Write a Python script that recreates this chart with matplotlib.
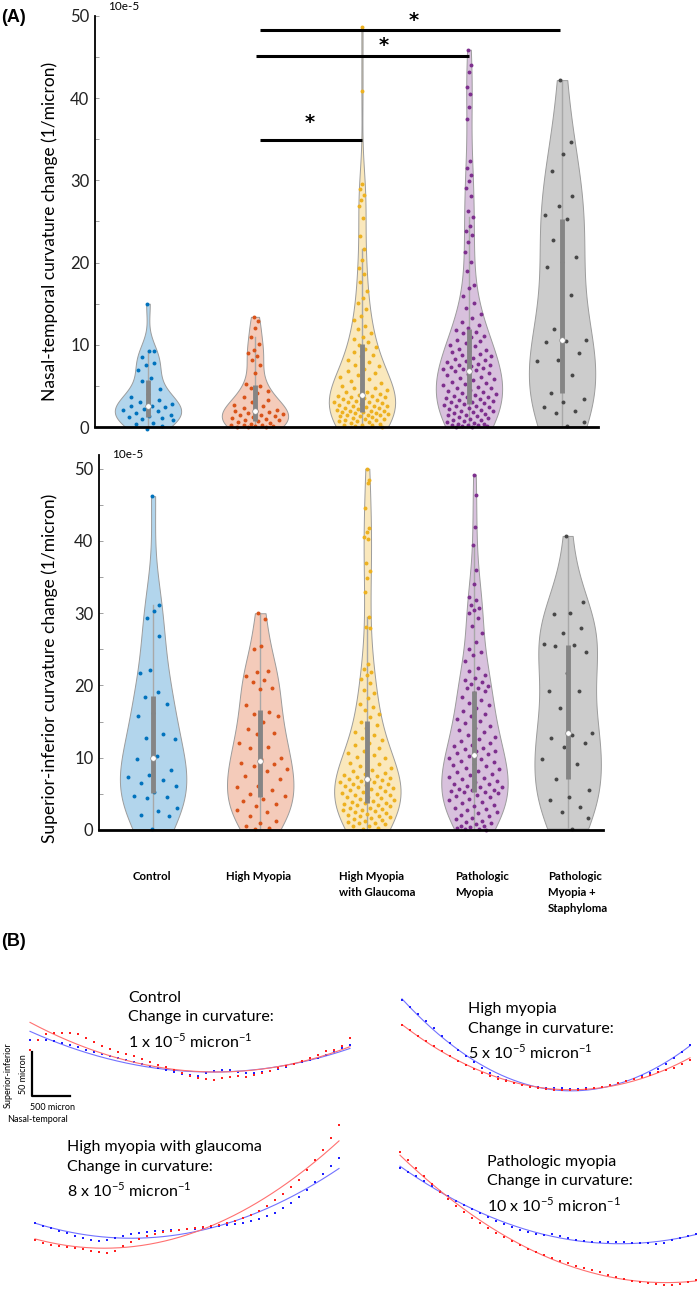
import numpy as np
import matplotlib
matplotlib.use("Agg")
import matplotlib.pyplot as plt
from matplotlib import mlab
from matplotlib.transforms import blended_transform_factory

plt.rcParams['font.family'] = ['Lato', 'DejaVu Sans']

# ---------------- panel A data (x 1e-5 / micron) ----------------
groups = ['Control', 'High Myopia', 'High Myopia\nwith Glaucoma',
          'Pathologic\nMyopia', 'Pathologic\nMyopia +\nStaphyloma']
dot_colors = ['#0072bd', '#d95319', '#edb120', '#7e2f8e', '#474747']
face_colors = ['#b2d5ec', '#f4cbba', '#fae8bc', '#d8c1dd', '#cccccc']

nt_control = [15.0, 9.3, 9.2, 8.5, 7.8, 7.6, 6.9, 6.0, 5.6, 4.6, 4.0, 3.6, 3.3, 3.1, 2.8, 2.6,
              2.5, 2.4, 2.2, 2.1, 1.9, 1.7, 1.5, 1.3, 1.2, 1.1, 1.0, 0.8, 0.5, 0.4, 0.1, -0.2]
nt_highmyopia = [13.4, 12.9, 12.1, 11.0, 10.1, 9.4, 9.0, 8.6, 8.2, 7.6, 6.6, 5.2, 5.0, 4.7, 4.4, 4.1,
                 3.6, 3.3, 3.0, 2.7, 2.5, 2.3, 2.1, 2.0, 1.9, 1.8, 1.7, 1.6, 1.5, 1.4, 1.3, 1.2,
                 1.1, 1.0, 0.9, 0.8, 0.7, 0.6, 0.5, 0.4, 0.3, 0.3, 0.2, 0.1, 0.1, 0.0, 0.0, 0.0]
nt_glaucoma = [48.7, 40.9, 29.6, 28.9, 28.2, 27.6, 26.9, 25.4, 23.2, 21.6, 20.3, 19.4, 18.6, 17.7,
               16.6, 15.7, 15.1, 14.3, 13.5, 13.0, 12.3, 11.9, 11.4, 11.0, 10.7, 10.3, 10.0, 9.7,
               9.5, 9.1, 8.8, 8.6, 8.2, 7.9, 7.6, 7.4, 7.1, 6.8, 6.6, 6.3, 6.1, 5.8, 5.6, 5.4, 5.2,
               5.0, 4.8, 4.7, 4.5, 4.3, 4.2, 4.0, 3.9, 3.8, 3.8, 3.7, 3.6, 3.5, 3.4, 3.3, 3.2, 3.1,
               3.0, 3.0, 2.9, 2.8, 2.7, 2.6, 2.6, 2.5, 2.4, 2.3, 2.3, 2.2, 2.1, 2.0, 2.0, 1.9, 1.8,
               1.8, 1.7, 1.7, 1.6, 1.5, 1.5, 1.4, 1.3, 1.3, 1.2, 1.1, 1.0, 1.0, 0.9, 0.8, 0.7, 0.7,
               0.6, 0.5, 0.4, 0.3, 0.3, 0.2, 0.1, 0.0]
nt_pathologic = [45.9, 44.0, 43.2, 41.4, 40.5, 38.9, 37.5, 32.3, 31.5, 30.7, 29.9, 29.1, 28.1, 26.3,
                 25.5, 24.5, 23.9, 23.3, 22.5, 21.3, 20.1, 19.0, 17.3, 16.9, 15.9, 15.1, 14.5, 13.7,
                 13.2, 12.8, 12.4, 12.1, 11.8, 11.5, 11.4, 11.1, 10.9, 10.6, 10.5, 10.2, 10.0, 9.8,
                 9.5, 9.4, 9.2, 9.1, 8.9, 8.8, 8.6, 8.4, 8.3, 8.1, 8.0, 7.9, 7.7, 7.6, 7.5, 7.4, 7.3,
                 7.2, 7.1, 7.0, 6.9, 6.8, 6.6, 6.4, 6.3, 6.1, 6.0, 5.8, 5.7, 5.5, 5.4, 5.2, 5.1, 4.9,
                 4.8, 4.7, 4.5, 4.4, 4.3, 4.1, 4.0, 3.9, 3.8, 3.7, 3.6, 3.5, 3.4, 3.3, 3.2, 3.1, 3.0,
                 2.9, 2.8, 2.7, 2.6, 2.5, 2.4, 2.3, 2.2, 2.1, 2.0, 1.9, 1.8, 1.7, 1.6, 1.5, 1.4, 1.3,
                 1.2, 1.1, 1.0, 0.9, 0.8, 0.7, 0.6, 0.5, 0.4, 0.4, 0.3, 0.2, 0.2, 0.1, 0.1, 0.0, 0.0]
nt_staphyloma = [42.2, 34.7, 33.2, 31.1, 28.1, 26.9, 25.8, 25.3, 22.8, 20.7, 20.1, 19.5, 16.1, 11.9,
                 10.6, 10.5, 10.3, 9.0, 8.1, 8.0, 6.3, 4.1, 3.4, 3.0, 2.4, 1.9, 1.7, 0.6, 0.1]

si_control = [46.2, 31.1, 30.3, 29.4, 26.8, 22.1, 21.7, 19.1, 18.4, 17.4, 16.2, 15.8, 13.3, 12.8,
              12.6, 10.2, 9.8, 8.3, 7.6, 7.4, 6.9, 6.5, 6.1, 5.2, 4.7, 4.5, 4.4, 3.0, 2.6, 2.1,
              2.0, 0.1]
si_highmyopia = [30.0, 29.2, 25.4, 25.0, 22.0, 21.8, 21.3, 20.7, 20.5, 19.7, 19.5, 17.3, 16.4, 16.0,
                 15.8, 15.0, 14.0, 13.4, 13.3, 12.0, 11.5, 11.4, 9.9, 9.8, 9.3, 9.1, 8.9, 8.5, 8.2,
                 7.5, 7.0, 6.1, 6.0, 5.5, 5.0, 4.7, 4.3, 4.0, 3.6, 3.3, 2.8, 2.5, 1.9, 1.3, 1.0, 0.6,
                 0.3, 0.1]
si_glaucoma = [50.0, 48.5, 48.0, 44.5, 41.8, 41.2, 40.5, 40.3, 37.0, 35.9, 34.9, 32.9, 29.5, 28.1,
               27.9, 23.0, 22.3, 21.8, 21.4, 20.9, 20.3, 19.4, 19.0, 18.2, 17.5, 17.0, 16.6, 16.0,
               15.6, 15.0, 14.6, 14.1, 13.6, 13.1, 12.8, 12.4, 12.1, 11.7, 11.3, 11.0, 10.7, 10.4,
               10.1, 9.9, 9.6, 9.3, 9.1, 8.8, 8.6, 8.3, 8.1, 7.9, 7.8, 7.6, 7.5, 7.3, 7.2, 7.1, 7.0,
               6.9, 6.8, 6.7, 6.6, 6.4, 6.3, 6.2, 6.1, 6.0, 5.9, 5.8, 5.7, 5.6, 5.4, 5.3, 5.1, 5.0,
               4.9, 4.8, 4.6, 4.5, 4.4, 4.3, 4.1, 4.0, 3.9, 3.8, 3.7, 3.6, 3.5, 3.4, 3.3, 3.1, 3.0,
               2.9, 2.8, 2.7, 2.6, 2.5, 2.4, 2.2, 2.1, 2.0, 1.9, 1.8, 1.6, 1.5, 1.4, 1.3, 1.1, 1.0,
               0.9, 0.8, 0.6, 0.5, 0.3, 0.1]
si_pathologic = [49.2, 46.4, 42.0, 39.4, 36.0, 34.0, 32.3, 31.8, 31.1, 30.7, 30.4, 30.0, 29.3, 28.2,
                 27.3, 26.0, 25.1, 24.6, 24.2, 23.4, 22.4, 22.0, 21.5, 21.1, 20.8, 20.5, 20.2, 19.9,
                 19.7, 19.6, 19.2, 18.9, 18.4, 18.0, 17.6, 17.3, 16.9, 16.5, 16.1, 15.8, 15.4, 15.1,
                 14.8, 14.4, 14.1, 13.8, 13.5, 13.2, 12.9, 12.6, 12.3, 12.0, 11.8, 11.6, 11.4, 11.2,
                 11.0, 10.9, 10.7, 10.5, 10.2, 10.0, 9.8, 9.6, 9.4, 9.2, 9.0, 8.8, 8.6, 8.4, 8.2, 8.0,
                 7.8, 7.6, 7.4, 7.2, 7.0, 6.8, 6.6, 6.4, 6.3, 6.1, 6.0, 5.9, 5.7, 5.6, 5.5, 5.4, 5.3,
                 5.3, 5.1, 4.9, 4.7, 4.5, 4.3, 4.1, 3.9, 3.7, 3.5, 3.3, 3.1, 2.9, 2.7, 2.5, 2.3, 2.1,
                 1.9, 1.7, 1.5, 1.3, 1.1, 0.9, 0.8, 0.6, 0.5, 0.4, 0.3, 0.2, 0.1, 0.0]
si_staphyloma = [40.7, 31.5, 30.1, 29.9, 28.0, 27.3, 25.7, 25.6, 25.5, 24.6, 21.7, 19.3, 19.2, 16.9,
                 13.4, 13.2, 12.8, 12.1, 11.5, 9.8, 9.1, 7.0, 5.5, 4.6, 4.1, 3.2, 2.5, 1.7, 0.2]

nt_data = [nt_control, nt_highmyopia, nt_glaucoma, nt_pathologic, nt_staphyloma]
si_data = [si_control, si_highmyopia, si_glaucoma, si_pathologic, si_staphyloma]

# ---------------- panel B data: surface height (micron), 100 micron steps ----------------
ctrl_blue = [69, 69, 69, 68, 65, 62, 60, 56, 54, 51, 49, 46, 44, 41, 39, 36, 34, 31, 29, 26, 25,
             24, 28, 30, 31, 31, 29, 28, 28, 29, 30, 32, 35, 39, 41, 44, 46, 50, 54, 59, 62]
ctrl_red = [56, 69, 76, 78, 78, 78, 76, 71, 66, 61, 58, 54, 51, 49, 45, 41, 38, 35, 31, 28, 24,
            21, 20, 19, 21, 22, 24, 22, 25, 28, 30, 34, 36, 39, 42, 46, 50, 55, 56, 61, 71]
hm_blue = [119, 110, 101, 93, 84, 74, 65, 56, 49, 41, 34, 28, 23, 19, 15, 13, 11, 10, 9, 9, 9, 8,
           8, 9, 9, 10, 13, 15, 18, 20, 24, 28, 33, 39, 46, 54, 63]
hm_red = [88, 81, 74, 68, 61, 55, 49, 43, 38, 33, 28, 24, 20, 18, 15, 13, 10, 9, 8, 6, 6, 6, 6,
          8, 9, 10, 13, 15, 18, 20, 23, 25, 29, 31, 34, 39, 44]
gl_blue = [46, 43, 40, 36, 34, 30, 28, 25, 24, 25, 28, 30, 33, 34, 35, 36, 36, 38, 38, 39, 39, 40,
           41, 43, 44, 45, 46, 49, 51, 55, 59, 65, 71, 79, 88, 98, 108, 118, 128]
gl_red = [25, 21, 19, 18, 16, 15, 14, 11, 10, 9, 11, 18, 23, 26, 30, 33, 35, 36, 38, 39, 40, 41,
          43, 44, 46, 49, 53, 56, 61, 68, 75, 83, 91, 100, 113, 125, 138, 153, 169]
pm_blue = [159, 154, 149, 143, 136, 130, 124, 118, 113, 108, 103, 98, 93, 89, 85, 81, 79, 76, 75,
           76, 74, 71, 69, 68, 66, 66, 66, 66, 66, 65, 65, 65, 64, 65, 69, 71, 74, 76]
pm_red = [179, 169, 159, 149, 139, 129, 120, 111, 104, 96, 90, 84, 78, 73, 68, 63, 58, 54, 50, 46,
          43, 40, 36, 34, 31, 29, 25, 23, 20, 18, 16, 15, 14, 13, 13, 14, 16, 19]

W, H = 700, 1299
fig = plt.figure(figsize=(W / 100, H / 100), dpi=100)


def px_axes(x0, y0, x1, y1):
    # axes from pixel box (top-left origin)
    return fig.add_axes([x0 / W, 1 - y1 / H, (x1 - x0) / W, (y1 - y0) / H])


def violins(ax, data, pos, width=0.62):
    parts = ax.violinplot(data, positions=pos, widths=width, showextrema=False)
    for body, fc in zip(parts['bodies'], face_colors):
        body.set_facecolor(fc)
        body.set_edgecolor('#9c9c9c')
        body.set_linewidth(0.7)
        body.set_alpha(1)
        body.set_zorder(1)
    for k, (vals, x) in enumerate(zip(data, pos)):
        vals = np.asarray(vals, float)
        kde = mlab.GaussianKDE(vals, 'scott')
        peak = kde.evaluate(np.linspace(vals.min(), vals.max(), 100)).max()
        hw = 0.5 * width * kde.evaluate(vals) / peak
        u = ((np.arange(len(vals)) * 0.618034 + 0.31) % 1) * 2 - 1
        ax.scatter(x + 0.85 * hw * u, vals, s=8, color=dot_colors[k], linewidths=0, zorder=3,
                   clip_on=False)
        q1, med, q3 = np.percentile(vals, [25, 50, 75])
        iqr = q3 - q1
        lo = vals[vals >= q1 - 1.5 * iqr].min()
        hi = vals[vals <= q3 + 1.5 * iqr].max()
        ax.plot([x, x], [lo, hi], color='#a8a8a8', lw=1, zorder=2)
        ax.plot([x, x], [q1, q3], color='#858585', lw=3.5, zorder=4, solid_capstyle='butt')
        ax.scatter([x], [med], s=16, color='white', edgecolors='#8a8a8a', linewidths=0.5, zorder=5)


def style_axis(ax, top):
    for s in ['top', 'right']:
        ax.spines[s].set_visible(False)
    ax.spines['left'].set_linewidth(1.3)
    ax.spines['bottom'].set_linewidth(2.0)
    ax.spines['bottom'].set_zorder(6)
    ax.set_ylim(0, top)
    ax.set_yticks(range(0, 51, 10))
    ax.set_yticks(range(5, 50, 10), minor=True)
    ax.tick_params(axis='y', which='both', direction='in', length=3, width=0.6,
                   color='#909090', labelsize=12, labelcolor='#222222', pad=4)
    ax.set_xticks([])


# ---------------- panel A top ----------------
ax1 = px_axes(95, 16, 598, 427)
pos_top = [1, 2, 3, 4, 4.87]
violins(ax1, nt_data, pos_top)
ax1.set_xlim(0.505, 5.206)
style_axis(ax1, 50)
for (xa, xb, yb, xs, dy) in [(2.05, 4.85, 48.3, 3.48, 1.2), (2.01, 4.0, 45.1, 3.2, 1.3),
                             (2.05, 3.0, 34.9, 2.51, 2.1)]:
    ax1.plot([xa, xb], [yb, yb], color='black', lw=2.2, solid_capstyle='butt', zorder=6,
             clip_on=False)
    ax1.text(xs, yb + dy, '*', ha='center', va='center', fontsize=14, fontweight='bold',
             family='DejaVu Sans')

# ---------------- panel A bottom ----------------
ax2 = px_axes(99, 455, 603, 830)
pos_bot = [1, 2, 3, 4, 4.87]
violins(ax2, si_data, pos_bot)
ax2.set_xlim(0.495, 5.2)
style_axis(ax2, 51.9)
tr = blended_transform_factory(ax2.transData, ax2.transAxes)
for lab, xl in zip(groups, [0.99, 1.98, 3.09, 4.07, 4.97]):
    ax2.text(xl, -0.11, lab, transform=tr, ha='center', va='top', multialignment='left',
             fontsize=8.2, fontweight='bold', linespacing=1.55)

fig.text(108 / W, 1 - 7 / H, '10e-5', fontsize=8.5, va='center')
fig.text(112 / W, 1 - 455 / H, '10e-5', fontsize=8.5, va='center')
fig.text(50 / W, 1 - 231 / H, 'Nasal-temporal curvature change (1/micron)', rotation=90,
         ha='center', va='center', fontsize=12.5)
fig.text(50 / W, 1 - 668 / H, 'Superior-inferior curvature change (1/micron)', rotation=90,
         ha='center', va='center', fontsize=12.5)
fig.text(1 / W, 1 - 17 / H, '(A)', fontsize=13, fontweight='bold', va='center',
         family='Liberation Sans')
fig.text(1 / W, 1 - 942 / H, '(B)', fontsize=13, fontweight='bold', va='center',
         family='Liberation Sans')

# ---------------- panel B ----------------
def profile(box, blue, red, text, tx, ty):
    x0, y0, x1, y1 = box
    ax = px_axes(x0, y0, x1, y1)
    n = len(blue)
    xs = np.arange(n) * 100.0
    ax.set_xlim(0, xs[-1])
    ax.set_ylim(0, (y1 - y0) * 1.25)
    ax.axis('off')
    xf = np.linspace(0, xs[-1], 200)
    for ys, dc, lc in [(blue, '#1f1fff', '#7272ff'), (red, '#ff1f1f', '#ff7070')]:
        ax.plot(xf, np.polyval(np.polyfit(xs, ys, 2), xf), color=lc, lw=0.8, clip_on=False)
        ax.plot(xs, ys, ls='none', marker='s', ms=1.5, color=dc, mew=0, clip_on=False)
    fig.text(tx / W, 1 - ty / H, text, fontsize=11.5, va='top', ha='left', linespacing=1.5)


sup = r'$^{\mathregular{-5}}$ micron$^{\mathregular{-1}}$'
profile((30, 990, 350, 1095), ctrl_blue, ctrl_red,
        'Control\nChange in curvature:\n1 x 10' + sup, 128, 991)
profile((402, 990, 690, 1095), hm_blue, hm_red,
        'High myopia\nChange in curvature:\n5 x 10' + sup, 468, 1002)
profile((35, 1110, 339, 1260), gl_blue, gl_red,
        'High myopia with glaucoma\nChange in curvature:\n8 x 10' + sup, 67, 1140)
profile((400, 1130, 696, 1295), pm_blue, pm_red,
        'Pathologic myopia\nChange in curvature:\n10 x 10' + sup, 487, 1155)

# scale bar
sb = fig.add_axes([0, 0, 1, 1], facecolor='none')
sb.set_xlim(0, W)
sb.set_ylim(H, 0)
sb.axis('off')
sb.plot([32, 32, 70], [1052, 1096, 1096], color='black', lw=1.6)
sb.text(23, 1074, '50 micron', rotation=90, ha='center', va='center', fontsize=6.5)
sb.text(8, 1075, 'Superior-inferior', rotation=90, ha='center', va='center', fontsize=6.5)
sb.text(53, 1108, '500 micron', ha='center', va='center', fontsize=6.5)
sb.text(38, 1120, 'Nasal-temporal', ha='center', va='center', fontsize=6.5)

fig.savefig('out.png', dpi=100)
